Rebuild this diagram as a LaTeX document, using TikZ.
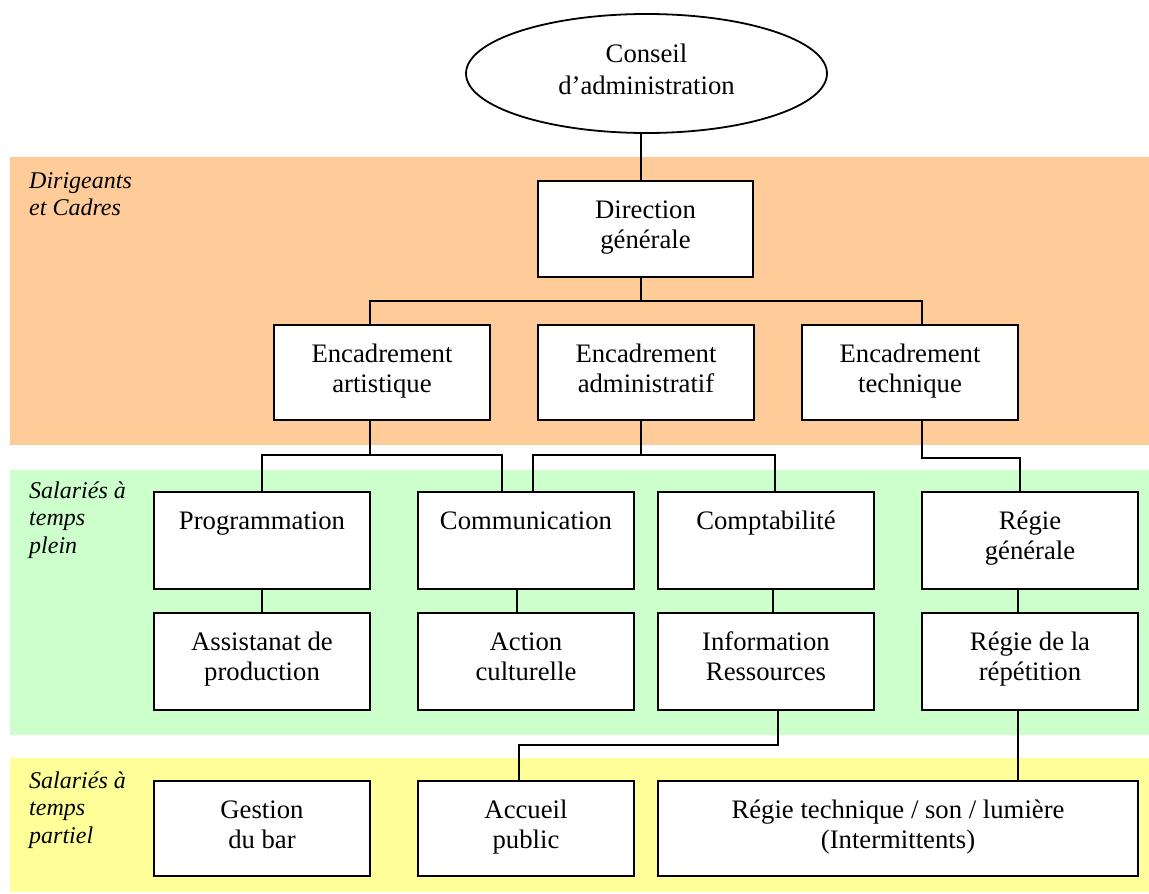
\documentclass[tikz,border=0pt]{standalone}
\usepackage{fontspec}
\setmainfont{Liberation Serif}
\usetikzlibrary{shapes.geometric}
\newcommand{\boxfont}{\fontsize{26.7}{30}\selectfont}
\newcommand{\ellfont}{\fontsize{26.7}{32}\selectfont}
\newcommand{\bandfont}{\fontsize{24}{27.5}\selectfont\itshape}
\definecolor{bandorange}{HTML}{FFCC99}
\definecolor{bandgreen}{HTML}{CCFFCC}
\definecolor{bandyellow}{HTML}{FFFF99}
\tikzset{
  orgbox/.style={draw=black, fill=white, line width=2pt, rectangle, inner sep=0pt, minimum width=216pt},
  txt/.style={anchor=north, inner sep=0pt, yshift=-17pt, align=center, font=\boxfont},
  conn/.style={draw=black, line width=1.3pt},
  bandlabel/.style={anchor=north west, inner sep=0pt, align=left, font=\bandfont},
}
\begin{document}
\begin{tikzpicture}[x=1pt, y=-1pt]
\useasboundingbox (0,0) rectangle (1149,894);
% bands
\fill[bandorange] (10,157) rectangle (1149,445);
\fill[bandgreen] (10,470) rectangle (1149,735);
\fill[bandyellow] (10,758) rectangle (1149,892);
\node[bandlabel] (l1) at (29,168.75) {\strut Dirigeants\\et Cadres};
\node[bandlabel] (l2) at (29,478.75) {\strut Salariés à\\temps\\plein};
\node[bandlabel] (l3) at (29,768.75) {\strut Salariés à\\temps\\partiel};

% junction coordinates
\coordinate (b1) at (370,301);
\coordinate (b2) at (922,301);
\coordinate (jd) at (641,301);
\coordinate (ja) at (370,455);
\coordinate (ja2) at (502,455);
\coordinate (jm) at (641,455);
\coordinate (jm1) at (533,455);
\coordinate (jm2) at (775,455);
\coordinate (jt) at (922,458);
\coordinate (jt2) at (1020,458);
\coordinate (ji) at (778,745);
\coordinate (ji2) at (519,745);

% nodes
\node[ellipse, draw=black, fill=white, line width=1.8pt, minimum width=361pt, minimum height=119pt, inner sep=0pt,
  label={[anchor=north, inner sep=0pt, yshift=-26.6pt, align=center, font=\ellfont]north:{\strut Conseil\\d’administration}}] (ca) at (646.5,73.5) {};
\node[orgbox, minimum width=215pt, minimum height=96pt, label={[txt]north:{\strut Direction\\générale}}] (dir) at (645.5,229) {};
\node[orgbox, minimum height=95pt, label={[txt]north:{\strut Encadrement\\artistique}}] (art) at (382,372.5) {};
\node[orgbox, minimum height=95pt, label={[txt]north:{\strut Encadrement\\administratif}}] (adm) at (646,372.5) {};
\node[orgbox, minimum height=95pt, label={[txt]north:{\strut Encadrement\\technique}}] (tec) at (910,372.5) {};

\node[orgbox, minimum height=97pt, label={[txt]north:{\strut Programmation}}] (prog) at (262,540.5) {};
\node[orgbox, minimum height=97pt, label={[txt]north:{\strut Communication}}] (comm) at (526,540.5) {};
\node[orgbox, minimum height=97pt, label={[txt]north:{\strut Comptabilité}}] (compt) at (766,540.5) {};
\node[orgbox, minimum height=97pt, label={[txt]north:{\strut Régie\\générale}}] (regg) at (1030,540.5) {};

\node[orgbox, minimum height=97pt, label={[txt]north:{\strut Assistanat de\\production}}] (asst) at (262,661.5) {};
\node[orgbox, minimum height=97pt, label={[txt]north:{\strut Action\\culturelle}}] (act) at (526,661.5) {};
\node[orgbox, minimum height=97pt, label={[txt]north:{\strut Information\\Ressources}}] (info) at (766,661.5) {};
\node[orgbox, minimum height=97pt, label={[txt]north:{\strut Régie de la\\répétition}}] (rrep) at (1030,661.5) {};

\node[orgbox, minimum height=95pt, label={[txt]north:{\strut Gestion\\du bar}}] (bar) at (262,828.5) {};
\node[orgbox, minimum height=95pt, label={[txt]north:{\strut Accueil\\public}}] (acc) at (526,828.5) {};
\node[orgbox, minimum width=480pt, minimum height=95pt, label={[txt]north:{\strut Régie technique / son / lumière\\(Intermittents)}}] (regt) at (898,828.5) {};

% connectors
\draw[conn] (jd |- ca.south) -- (jd |- dir.north);
\draw[conn] (jd |- dir.south) -- (jd);
\draw[conn] (b1 |- art.north) |- (b2) -- (b2 |- tec.north);
\draw[conn] (ja |- art.south) -- (ja);
\draw[conn] (prog.north) |- (ja2) -- (ja2 |- comm.north);
\draw[conn] (jm |- adm.south) -- (jm);
\draw[conn] (jm1 |- comm.north) |- (jm2) -- (jm2 |- compt.north);
\draw[conn] (jt |- tec.south) |- (jt2) -- (jt2 |- regg.north);
\draw[conn] (prog.south) -- (asst.north);
\draw[conn] ([xshift=-9pt]comm.south) -- ([xshift=-9pt]act.north);
\draw[conn] ([xshift=7pt]compt.south) -- ([xshift=7pt]info.north);
\draw[conn] ([xshift=-12pt]regg.south) -- ([xshift=-12pt]rrep.north);
\draw[conn] (ji |- info.south) |- (ji2) -- (ji2 |- acc.north);
\draw[conn] ([xshift=-12pt]rrep.south) -- ([xshift=-12pt]rrep.south |- regt.north);
\end{tikzpicture}
\end{document}
